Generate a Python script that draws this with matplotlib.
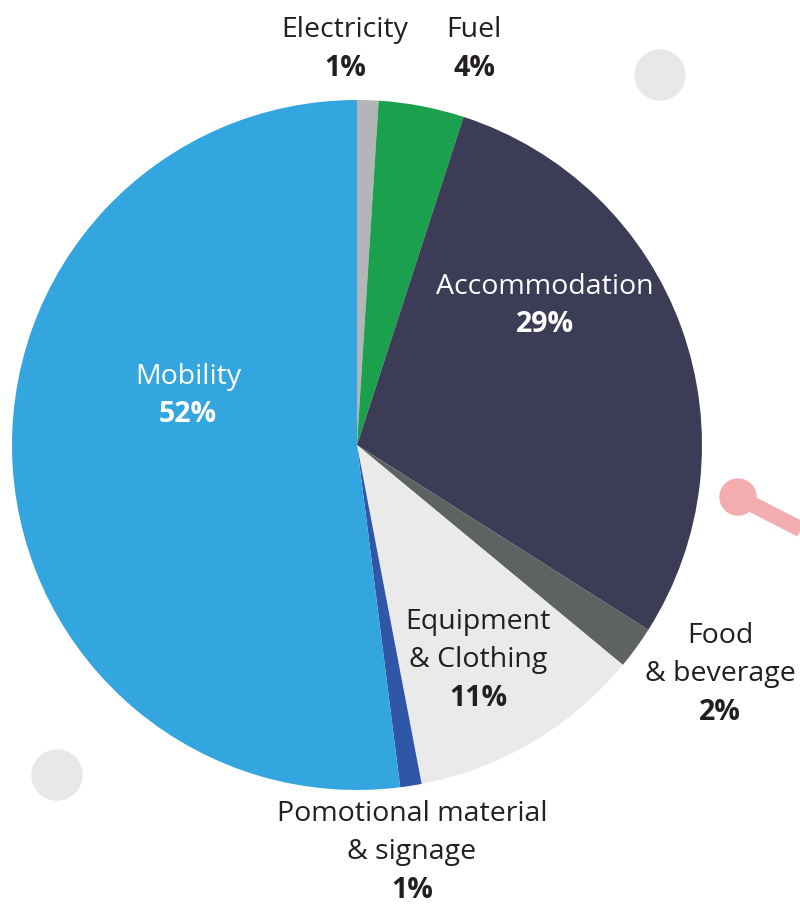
import matplotlib.pyplot as plt
from matplotlib.patches import Circle

# slices clockwise from 12 o'clock
labels = ["Electricity", "Fuel", "Accommodation", "Food\n& beverage",
          "Equipment\n& Clothing", "Pomotional material\n& signage", "Mobility"]
shares = [1, 4, 29, 2, 11, 1, 52]
colors = ["#B3B5B6", "#1BA04E", "#3C3C57", "#5E6361", "#EAEAEA", "#2F57A5", "#33A5DF"]

W, H = 800, 906
fig = plt.figure(figsize=(W / 100, H / 100), dpi=100)
ax = fig.add_axes([0, 0, 1, 1])
ax.set_aspect("equal")

plt.rcParams["font.family"] = ["Open Sans", "DejaVu Sans"]

def py(y):
    return H - y

# decorative bits
ax.add_patch(Circle((660, py(75)), 25, color="#E8E8E8", zorder=0))
ax.add_patch(Circle((57, py(775)), 25, color="#E8E8E8", zorder=0))
ax.plot([738, 810], [py(497), py(534)], color="#F4ADAE", lw=11.5, solid_capstyle="butt", zorder=0)
ax.add_patch(Circle((738, py(497)), 18, color="#F4ADAE", zorder=0))

ax.pie(shares, colors=colors, startangle=90, counterclock=False,
       center=(357, py(445)), radius=345, frame=True,
       wedgeprops=dict(linewidth=0))
ax.set_xlim(0, W)
ax.set_ylim(0, H)
ax.axis("off")

# label positions (pixel coords of first line), colour
pos = {
    "Electricity": (345, 30, "#231F20"),
    "Fuel": (474, 30, "#231F20"),
    "Accommodation": (545, 287, "white"),
    "Food\n& beverage": (720, 636, "#231F20"),
    "Equipment\n& Clothing": (478, 622, "#231F20"),
    "Pomotional material\n& signage": (412, 814, "#231F20"),
    "Mobility": (188, 377, "white"),
}
step = 38
fs = 20.5
for lab, val in zip(labels, shares):
    x, y, c = pos[lab]
    lines = lab.split("\n")
    for i, ln in enumerate(lines):
        ax.text(x, py(y + i * step), ln, ha="center", va="center", fontsize=fs, color=c)
    ax.text(x, py(y + len(lines) * step), f"{val}%", ha="center", va="center",
            fontsize=fs, fontweight="bold", color=c)

fig.savefig("out.png", dpi=100)
